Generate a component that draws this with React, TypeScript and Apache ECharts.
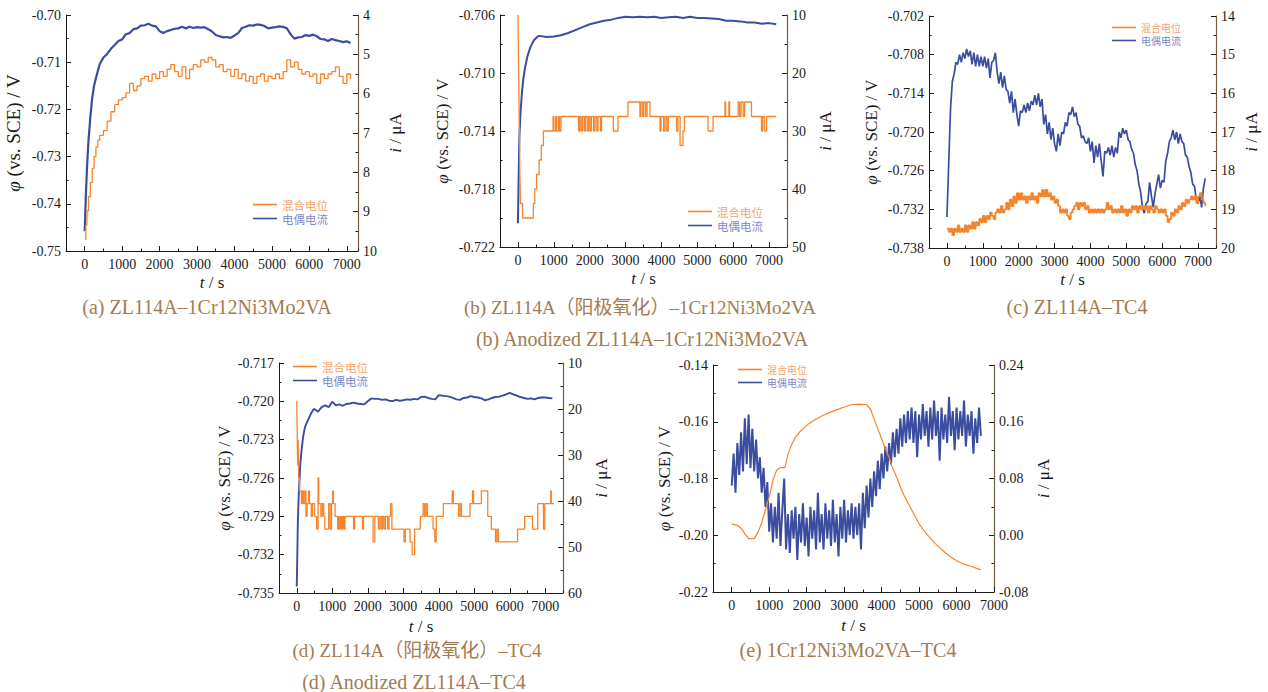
import React, { useEffect, useRef } from "react";
import * as echarts from "echarts";

type P = [number, number];
const seq = (start: number, step: number, vals: number[]): P[] => vals.map((v, i) => [start + i * step, v] as P);

const SERIF = "'Liberation Serif', 'Times New Roman', serif";
const CAPFONT = "'Liberation Serif', 'Noto Sans CJK SC', serif";
const CJK = "'Noto Sans CJK SC', sans-serif";

const POT_NAME = "混合电位";
const CUR_NAME = "电偶电流";
const X_TICKS = [0, 1000, 2000, 3000, 4000, 5000, 6000, 7000];
const CAPTIONS = [
  "(a) ZL114A–1Cr12Ni3Mo2VA",
  "(b) ZL114A（阳极氧化）–1Cr12Ni3Mo2VA",
  "(b) Anodized ZL114A–1Cr12Ni3Mo2VA",
  "(c) ZL114A–TC4",
  "(d) ZL114A（阳极氧化）–TC4",
  "(d) Anodized ZL114A–TC4",
  "(e) 1Cr12Ni3Mo2VA–TC4",
];

// ---------- (a) ----------
const A_CUR_EARLY: P[] = [[0, 9.5], [30, 8.6], [60, 7.9], [100, 7.2], [150, 6.6], [200, 6.1], [250, 5.8], [300, 5.6]];
const A_CUR = [
  5.25, 5.08, 4.99, 4.86, 4.76, 4.66, 4.62,
  4.49, 4.46, 4.36, 4.34, 4.27, 4.26, 4.22, 4.27, 4.29, 4.41,
  4.46, 4.41, 4.38, 4.35, 4.34, 4.30, 4.34, 4.30, 4.33, 4.31,
  4.32, 4.31, 4.36, 4.42, 4.51, 4.54, 4.57, 4.56, 4.58, 4.52,
  4.46, 4.33, 4.30, 4.26, 4.27, 4.24, 4.25, 4.28, 4.34, 4.32,
  4.31, 4.29, 4.30, 4.34, 4.49, 4.60, 4.57, 4.56, 4.51, 4.53,
  4.50, 4.54, 4.61, 4.62, 4.66, 4.61, 4.64, 4.66, 4.69, 4.67,
  4.71,
];
const A_POT_EARLY: P[] = [[0, -0.7475], [30, -0.7445], [60, -0.7415], [100, -0.7385], [150, -0.7355], [200, -0.7325], [250, -0.73], [300, -0.728], [350, -0.7265]];
const A_POT = [
  -0.7255, -0.7245, -0.7225, -0.7205, -0.719, -0.718, -0.7175,
  -0.7165, -0.7145, -0.716, -0.715, -0.7135, -0.713, -0.714, -0.7125, -0.7135, -0.712,
  -0.713, -0.7115, -0.7105, -0.712, -0.713, -0.711, -0.7135, -0.7115, -0.7105, -0.711,
  -0.7095, -0.71, -0.709, -0.7095, -0.711, -0.7105, -0.712, -0.7115, -0.713, -0.7115,
  -0.7135, -0.7125, -0.714, -0.713, -0.7145, -0.713, -0.7125, -0.714, -0.713, -0.7135,
  -0.7125, -0.7135, -0.712, -0.7095, -0.711, -0.71, -0.7115, -0.7125, -0.712, -0.713,
  -0.7125, -0.7145, -0.7125, -0.7135, -0.7125, -0.712, -0.711, -0.713, -0.7145, -0.7125,
  -0.7135,
];

// ---------- (b) ----------
const B_CUR_EARLY: P[] = [[0, 45.9], [20, 38], [40, 31], [70, 27], [110, 23.5], [150, 21], [200, 19], [270, 17], [350, 15.5], [450, 14.3], [550, 13.7]];
const B_CUR = [
  13.6, 13.8, 13.7, 13.5, 13.1, 12.6, 12.1, 11.6, 11.3, 11.0,
  10.8, 10.5, 10.3, 10.4, 10.3, 10.4, 10.3, 10.5, 10.4, 10.3,
  10.5, 10.3, 10.5, 10.5, 10.6, 10.7, 11.0, 11.0, 11.1, 11.3,
  11.3, 11.5, 11.4, 11.6,
];
const B_POT: P[] = [
  [0, -0.706], [10, -0.708], [25, -0.711], [40, -0.714], [55, -0.717], [70, -0.719], [130, -0.72], [430, -0.719],
  [470, -0.718], [520, -0.717], [590, -0.716], [650, -0.715], [710, -0.714], [980, -0.713], [1000, -0.714],
  [1050, -0.713], [1080, -0.714], [1130, -0.713], [1160, -0.714], [1200, -0.713], [1690, -0.714], [1720, -0.713],
  [1760, -0.714], [1800, -0.713], [1850, -0.714], [1880, -0.713], [1930, -0.714], [1970, -0.713], [2010, -0.714],
  [2050, -0.713], [2110, -0.714], [2150, -0.713], [2200, -0.714], [2230, -0.713], [2300, -0.714], [2330, -0.713],
  [2660, -0.714], [2790, -0.713], [3070, -0.712], [3400, -0.713], [3430, -0.712], [3480, -0.713], [3510, -0.712],
  [3560, -0.713], [3600, -0.712], [3680, -0.713], [3960, -0.714], [3990, -0.713], [4060, -0.714], [4100, -0.713],
  [4150, -0.714], [4190, -0.713], [4420, -0.714], [4460, -0.713], [4520, -0.715], [4600, -0.714], [4640, -0.713],
  [5300, -0.714], [5440, -0.713], [5770, -0.712], [5790, -0.713], [5880, -0.712], [5900, -0.713], [6140, -0.712],
  [6180, -0.713], [6220, -0.712], [6280, -0.713], [6320, -0.712], [6510, -0.713], [6790, -0.714], [6820, -0.713],
  [6870, -0.714], [6930, -0.713], [7200, -0.713],
];

// ---------- (c) ----------
const C_CUR = [
  19.2, 17.8, 16.4, 15.7, 15.5, 15.2, 15.25, 15.0, 15.2, 14.95,
  15.1, 14.85, 15.05, 14.9, 15.25, 14.95, 15.3, 15.0, 15.3, 15.05,
  15.3, 15.05, 15.35, 15.1, 15.6, 15.2, 15.15, 14.95, 15.45, 15.75,
  15.45, 15.85, 15.55, 15.9, 15.95, 16.25, 15.95, 16.5, 16.15, 16.55,
  16.85, 16.45, 16.5, 16.3, 16.5, 16.25, 16.45, 16.2, 16.3, 16.05,
  16.3, 16.0, 16.35, 16.15, 16.8, 16.55, 17.05, 16.75, 17.2, 16.9,
  17.3, 17.5, 17.05, 17.35, 17.0, 17.05, 16.75, 16.85, 16.5, 16.55,
  16.35, 16.6, 16.5, 16.8, 16.85, 17.15, 17.1, 17.25, 17.3, 17.15,
  17.5, 17.25, 17.8, 17.35, 17.65, 17.3, 17.75, 18.15, 17.5, 17.55,
  17.4, 17.6, 17.35, 17.65, 17.4, 17.55, 17.0, 17.15, 16.9, 17.05,
  16.95, 17.2, 17.25, 17.45, 17.55, 17.85, 18.0, 18.35, 18.55, 18.95,
  19.1, 18.85, 18.8, 18.3, 18.65, 18.95, 18.6, 18.35, 18.1, 18.45,
  18.25, 18.3, 17.75, 17.55, 17.25, 17.15, 16.95, 17.2, 17.0, 17.3,
  17.05, 17.25, 17.3, 17.6, 17.65, 17.9, 18.05, 18.35, 18.4, 18.75,
  18.85, 18.65, 18.95, 18.45, 18.2,
];
const C_POT = [
  -0.735, -0.7355, -0.735, -0.736, -0.735, -0.7355, -0.7345, -0.7355, -0.735, -0.7355,
  -0.7345, -0.7355, -0.7345, -0.735, -0.734, -0.735, -0.734, -0.7345, -0.7335, -0.734,
  -0.733, -0.734, -0.733, -0.7335, -0.7325, -0.733, -0.7335, -0.7325, -0.732, -0.7325,
  -0.7315, -0.7325, -0.732, -0.731, -0.732, -0.7305, -0.7315, -0.73, -0.731, -0.7295,
  -0.7305, -0.7295, -0.7305, -0.73, -0.731, -0.73, -0.7305, -0.7295, -0.7305, -0.73,
  -0.731, -0.7295, -0.73, -0.729, -0.73, -0.729, -0.73, -0.7295, -0.7305, -0.73,
  -0.731, -0.7305, -0.7315, -0.7325, -0.732, -0.7325, -0.732, -0.733, -0.7335, -0.7325,
  -0.732, -0.7315, -0.731, -0.732, -0.731, -0.7315, -0.731, -0.732, -0.7315, -0.7325,
  -0.732, -0.7325, -0.732, -0.7325, -0.732, -0.7325, -0.732, -0.7325, -0.732, -0.731,
  -0.732, -0.7315, -0.7325, -0.732, -0.7325, -0.732, -0.7325, -0.7315, -0.7325, -0.732,
  -0.733, -0.732, -0.7325, -0.7315, -0.732, -0.7315, -0.7325, -0.7315, -0.732, -0.7315,
  -0.732, -0.7315, -0.7325, -0.7315, -0.732, -0.7325, -0.7315, -0.732, -0.7325, -0.732,
  -0.7325, -0.732, -0.733, -0.734, -0.7335, -0.7325, -0.733, -0.732, -0.7325, -0.7315,
  -0.732, -0.731, -0.7315, -0.7305, -0.731, -0.7305, -0.73, -0.7305, -0.73, -0.731,
  -0.73, -0.7295, -0.7305, -0.731, -0.7315,
];

// ---------- (d) ----------
const D_CUR_EARLY: P[] = [[0, 58.6], [15, 52], [30, 45], [50, 40], [70, 36.5], [100, 32], [135, 29], [180, 26], [230, 24], [280, 23], [330, 22.2], [400, 21], [470, 20.1]];
const D_CUR = [
  20.0, 20.6, 19.6, 19.2, 19.6, 18.4, 19.2, 19.0, 19.3, 18.9,
  18.8, 18.6, 18.8, 18.9, 19.0, 18.3, 17.7, 17.8, 17.8, 18.0,
  17.9, 18.2, 18.3, 18.0, 18.2, 18.1, 17.9, 18.0, 17.8, 17.9,
  17.4, 17.3, 17.6, 17.8, 17.9, 17.0, 17.1, 17.2, 17.3, 17.6,
  17.9, 18.0, 17.6, 17.5, 17.2, 17.4, 17.5, 17.7, 18.1, 17.9,
  17.6, 17.4, 17.3, 17.1, 16.8, 16.5, 16.8, 17.1, 17.4, 17.6,
  17.8, 17.7, 17.9, 17.6, 17.5, 17.5, 17.6, 17.7,
];
const D_POT: P[] = [
  [0, -0.72], [10, -0.722], [25, -0.725], [40, -0.723], [55, -0.726], [80, -0.727], [130, -0.728], [160, -0.727],
  [190, -0.728], [230, -0.727], [260, -0.729], [290, -0.728], [330, -0.727], [360, -0.728], [410, -0.729],
  [440, -0.728], [500, -0.729], [560, -0.73], [600, -0.726], [620, -0.728], [680, -0.729], [720, -0.728],
  [760, -0.729], [790, -0.73], [900, -0.728], [940, -0.73], [980, -0.728], [1010, -0.727], [1030, -0.728],
  [1080, -0.729], [1150, -0.73], [1180, -0.729], [1210, -0.73], [1240, -0.729], [1270, -0.73], [1300, -0.729],
  [1330, -0.73], [1360, -0.729], [1600, -0.73], [1630, -0.729], [1850, -0.73], [1880, -0.729], [2150, -0.731],
  [2200, -0.729], [2300, -0.73], [2340, -0.729], [2380, -0.73], [2420, -0.729], [2460, -0.73], [2500, -0.729],
  [2560, -0.73], [2600, -0.729], [2640, -0.728], [2680, -0.73], [3020, -0.731], [3060, -0.73], [3190, -0.731],
  [3250, -0.732], [3320, -0.73], [3480, -0.729], [3560, -0.728], [3600, -0.729], [3640, -0.728], [3680, -0.729],
  [3840, -0.73], [3890, -0.731], [3930, -0.729], [4130, -0.728], [4380, -0.727], [4410, -0.728], [4560, -0.729],
  [4600, -0.728], [4640, -0.729], [4880, -0.728], [4950, -0.727], [4980, -0.728], [5200, -0.727], [5380, -0.729],
  [5480, -0.73], [5600, -0.731], [5640, -0.73], [5680, -0.731], [6220, -0.73], [6420, -0.729], [6640, -0.73],
  [6790, -0.728], [6950, -0.73], [6990, -0.728], [7150, -0.727], [7170, -0.728], [7250, -0.728],
];

// ---------- (e) ----------
const E_CUR = [
  0.07, 0.115, 0.06, 0.13, 0.085, 0.145, 0.09, 0.165, 0.1, 0.17,
  0.095, 0.15, 0.09, 0.135, 0.08, 0.11, 0.06, 0.095, 0.04, 0.075,
  0.005, 0.045, -0.01, 0.04, -0.005, 0.06, -0.015, 0.035, 0.08, -0.02,
  0.03, -0.025, 0.035, -0.005, 0.04, -0.035, 0.03, -0.01, 0.045, -0.015,
  0.025, -0.03, 0.04, -0.005, 0.035, -0.02, 0.06, -0.01, 0.03, -0.02,
  0.045, -0.005, 0.035, -0.015, 0.05, -0.01, 0.03, -0.03, 0.04, -0.005,
  0.05, -0.01, 0.035, 0.0, 0.045, -0.005, 0.04, 0.0, 0.045, -0.02,
  0.06, 0.01, 0.07, 0.025, 0.08, 0.04, 0.09, 0.055, 0.105, 0.065,
  0.115, 0.08, 0.125, 0.09, 0.13, 0.1, 0.145, 0.11, 0.15, 0.115,
  0.165, 0.125, 0.17, 0.13, 0.175, 0.135, 0.18, 0.13, 0.175, 0.11,
  0.17, 0.135, 0.185, 0.14, 0.175, 0.125, 0.18, 0.135, 0.19, 0.14,
  0.175, 0.105, 0.18, 0.135, 0.17, 0.13, 0.195, 0.14, 0.175, 0.12,
  0.18, 0.135, 0.175, 0.14, 0.19, 0.125, 0.17, 0.14, 0.175, 0.115,
  0.165, 0.13, 0.18, 0.14,
];
const E_POT: P[] = [
  [0, -0.196], [150, -0.1965], [250, -0.1975], [350, -0.1995], [450, -0.2012], [600, -0.2012], [700, -0.199],
  [800, -0.1955], [900, -0.191], [1000, -0.1865], [1100, -0.1805], [1200, -0.177], [1300, -0.1762], [1420, -0.1762],
  [1500, -0.1715], [1600, -0.168], [1700, -0.1655], [1800, -0.1638], [1900, -0.1625], [2000, -0.1612], [2200, -0.1595],
  [2400, -0.158], [2600, -0.1568], [2800, -0.1558], [3000, -0.1548], [3200, -0.154], [3400, -0.1538], [3600, -0.154],
  [3700, -0.1555], [3800, -0.159], [3900, -0.1625], [4000, -0.166], [4100, -0.1695], [4200, -0.1725], [4300, -0.1765],
  [4400, -0.1795], [4500, -0.183], [4600, -0.186], [4700, -0.1885], [4800, -0.191], [4900, -0.1935], [5000, -0.196],
  [5200, -0.1995], [5400, -0.2025], [5600, -0.205], [5800, -0.2072], [6000, -0.209], [6200, -0.2102], [6400, -0.211],
  [6650, -0.2122],
];

const ORANGE = "#f5852c";
const BLUE = "#3a4d9f";
const ORANGE_TXT = "#f5a46a";
const BLUE_TXT = "#7b8bc8";
const BROWN = "#7a5a3c";
const CAPTION = "#a57a50";
const INK = "#1a1a1a";

const PANELS = [
  {
    grid: [66, 15, 292, 236], xMax: 7300, xGap: 23,
    left: { min: -0.75, max: -0.7, interval: 0.01, d: 2, gap: 43, fs: 19 },
    right: { min: 4, max: 10, interval: 1, d: 0, gap: 29, inverse: true },
    legend: [253, 198, 11.5, 13, 1],
    pot: A_POT_EARLY.concat(seq(400, 100, A_POT)), potStep: true, potW: 1.3,
    cur: A_CUR_EARLY.concat(seq(400, 100, A_CUR)), curW: 2.2,
  },
  {
    grid: [500, 15, 287, 232], xMax: 7500, xGap: 23,
    left: { min: -0.722, max: -0.706, interval: 0.004, d: 3, gap: 49, fs: 17 },
    right: { min: 10, max: 50, interval: 10, d: 0, gap: 30, inverse: true },
    legend: [688, 205, 11.5, 13, 1],
    pot: B_POT, potStep: true, potW: 1.3,
    cur: B_CUR_EARLY.concat(seq(600, 200, B_CUR)), curW: 2,
  },
  {
    grid: [929, 16, 287, 232], xMax: 7500, xGap: 23,
    left: { min: -0.738, max: -0.702, interval: 0.006, d: 3, gap: 49, fs: 17 },
    right: { min: 14, max: 20, interval: 1, d: 0, gap: 27, inverse: true },
    legend: [1112, 22, 10, 11, 2],
    pot: seq(0, 50, C_POT), potStep: true, potW: 1.8,
    cur: seq(0, 50, C_CUR), curW: 1.7,
  },
  {
    grid: [279, 363, 284, 230], xMax: 7500, xGap: 25,
    left: { min: -0.735, max: -0.717, interval: 0.003, d: 3, gap: 46, fs: 17 },
    right: { min: 10, max: 60, interval: 10, d: 0, gap: 30, inverse: true },
    legend: [293, 360, 11.5, 13, 1],
    pot: D_POT, potStep: true, potW: 1.3,
    cur: D_CUR_EARLY.concat(seq(500, 100, D_CUR)), curW: 1.9,
  },
  {
    grid: [713, 365, 281, 227], xMax: 7000, xGap: 25,
    left: { min: -0.22, max: -0.14, interval: 0.02, d: 2, gap: 40, fs: 17 },
    right: { min: -0.08, max: 0.24, interval: 0.08, d: 2, gap: 41, inverse: false },
    legend: [738, 364, 10, 11, 2],
    pot: E_POT, potStep: false, potW: 1.2,
    cur: seq(0, 50, E_CUR), curW: 2,
  },
];

const CAPTION_POS = [
  [207, 307, 20], [640, 307, 19], [642, 339, 20], [1077, 307, 20], [417, 650, 19], [414, 682, 20], [848, 650, 20],
];

function buildOption() {
  const nameStyle = (fs: number) => ({
    fontFamily: SERIF, fontSize: fs, color: INK,
    rich: { it: { fontFamily: SERIF, fontSize: fs, fontStyle: "italic", color: INK } },
  });
  const labelStyle = { fontFamily: SERIF, fontSize: 14, color: INK };

  const grid = PANELS.map((p) => ({ left: p.grid[0], top: p.grid[1], width: p.grid[2], height: p.grid[3] }));
  const xAxis: any[] = [];
  PANELS.forEach((p, i) => {
    xAxis.push({
      type: "value", gridIndex: i, position: "bottom", min: -500, max: p.xMax,
      name: "{it|t} / s", nameLocation: "middle", nameGap: p.xGap, nameTextStyle: nameStyle(17),
      axisLine: { show: true, onZero: false, lineStyle: { color: INK, width: 1 } },
      axisTick: { show: true, inside: true, length: 5, customValues: X_TICKS, lineStyle: { color: INK } },
      axisLabel: { show: true, customValues: X_TICKS, margin: 6, formatter: (v: number) => String(v), ...labelStyle },
      splitLine: { show: false },
    });
  });
  PANELS.forEach((p, i) => {
    xAxis.push({
      type: "value", gridIndex: i, position: "bottom", offset: 0, min: -500, max: p.xMax, interval: 500,
      axisLine: { show: false, onZero: false }, axisLabel: { show: false }, splitLine: { show: false },
      axisTick: { show: true, inside: true, length: 2.5, lineStyle: { color: INK } },
    });
  });
  const yAxis: any[] = [];
  PANELS.forEach((p, i) => {
    yAxis.push({
      type: "value", gridIndex: i, position: "left",
      min: p.left.min, max: p.left.max, interval: p.left.interval,
      name: "{it|φ} (vs. SCE) / V", nameLocation: "middle", nameRotate: 90, nameGap: p.left.gap,
      nameTextStyle: nameStyle(p.left.fs),
      axisLine: { show: true, onZero: false, lineStyle: { color: INK, width: 1 } },
      axisTick: { show: true, inside: true, length: 5, lineStyle: { color: INK } },
      minorTick: { show: true, splitNumber: 2, length: 2.5, lineStyle: { color: INK } },
      axisLabel: { margin: 5, formatter: (v: number) => v.toFixed(p.left.d), ...labelStyle },
      splitLine: { show: false },
    });
    yAxis.push({
      type: "value", gridIndex: i, position: "right", inverse: p.right.inverse,
      min: p.right.min, max: p.right.max, interval: p.right.interval,
      name: "{it|i} / μA", nameLocation: "middle", nameRotate: 90, nameGap: p.right.gap,
      nameTextStyle: nameStyle(17),
      axisLine: { show: true, onZero: false, lineStyle: { color: BROWN, width: 1.2 } },
      axisTick: { show: true, inside: true, length: 5, lineStyle: { color: INK } },
      minorTick: { show: true, splitNumber: 2, length: 2.5, lineStyle: { color: INK } },
      axisLabel: { margin: 5, formatter: (v: number) => v.toFixed(p.right.d), ...labelStyle },
      splitLine: { show: false },
    });
  });
  const series: any[] = [];
  PANELS.forEach((p, i) => {
    series.push({
      type: "line", name: CUR_NAME, xAxisIndex: i, yAxisIndex: 2 * i + 1, data: p.cur,
      symbol: "none", showSymbol: false, z: 2,
      lineStyle: { color: BLUE, width: p.curW }, itemStyle: { color: BLUE },
    });
    series.push({
      type: "line", name: POT_NAME, xAxisIndex: i, yAxisIndex: 2 * i, data: p.pot,
      step: p.potStep ? "end" : false, symbol: "none", showSymbol: false, z: 3,
      lineStyle: { color: ORANGE, width: p.potW }, itemStyle: { color: ORANGE },
    });
  });
  const legend = PANELS.map((p) => ({
    left: p.legend[0], top: p.legend[1], orient: "vertical", itemGap: p.legend[4], padding: 0,
    itemWidth: 24, itemHeight: 1.6, icon: "rect", selectedMode: false,
    textStyle: { fontFamily: CJK, fontSize: p.legend[2], lineHeight: p.legend[3] },
    data: [
      { name: POT_NAME, textStyle: { color: ORANGE_TXT } },
      { name: CUR_NAME, textStyle: { color: BLUE_TXT } },
    ],
  }));
  const graphic = CAPTIONS.map((t, i) => ({
    type: "text", x: CAPTION_POS[i][0], y: CAPTION_POS[i][1], silent: true,
    style: {
      text: t, fill: CAPTION, font: `${CAPTION_POS[i][2]}px ${CAPFONT}`,
      align: "center", verticalAlign: "middle", textAlign: "center", textVerticalAlign: "middle",
    },
  }));
  return { animation: false, backgroundColor: "#ffffff", grid, xAxis, yAxis, series, legend, graphic };
}

export default function App() {
  const ref = useRef<HTMLDivElement>(null);
  useEffect(() => {
    if (!ref.current) return;
    const chart = echarts.init(ref.current, undefined, { renderer: "svg" });
    chart.setOption(buildOption() as any);
    return () => chart.dispose();
  }, []);
  return <div ref={ref} style={{ position: "absolute", left: 0, top: 0, width: 1268, height: 692 }} />;
}
